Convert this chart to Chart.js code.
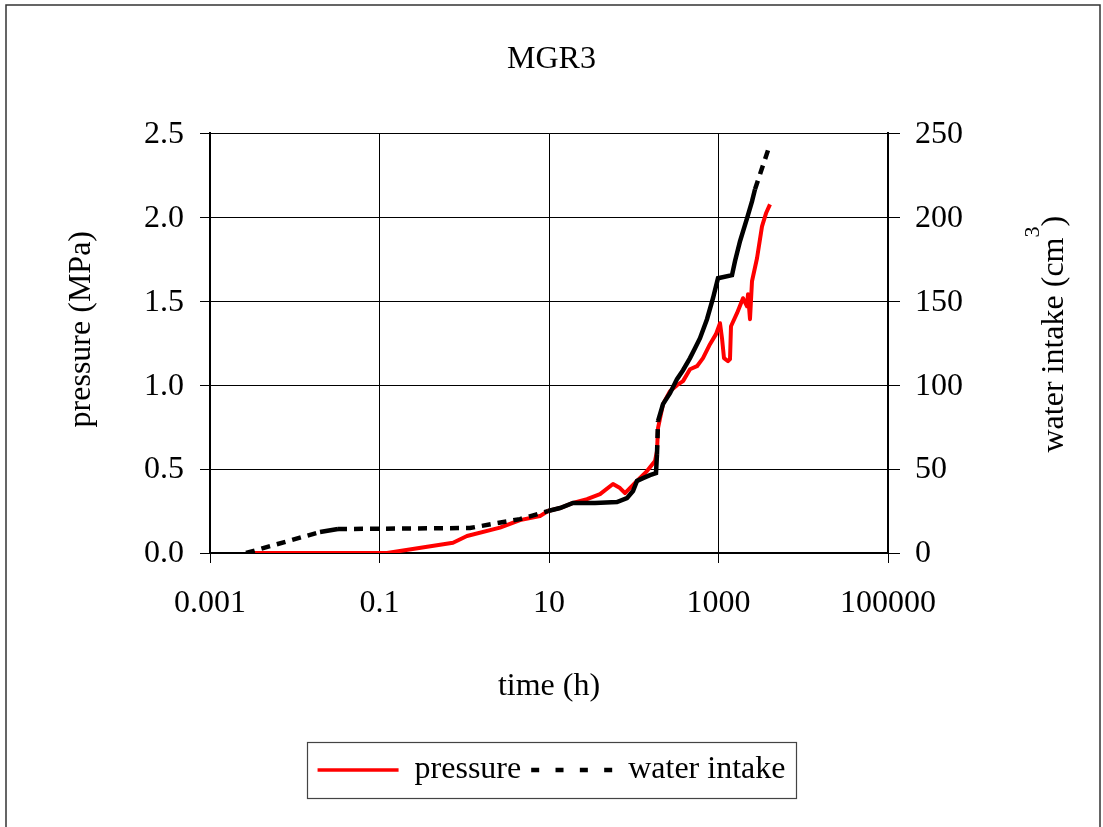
<!DOCTYPE html>
<html><head><meta charset="utf-8">
<script src="https://cdn.jsdelivr.net/npm/chart.js@4.4.1/dist/chart.umd.min.js"></script>
<style>html,body{margin:0;padding:0;background:#fff;} canvas{display:block;}</style>
</head><body>
<canvas id="c" width="1103" height="827"></canvas>
<script>
const chartTitle = 'MGR3';
const xTitle = 'time (h)';
const yLeftTitle = 'pressure (MPa)';
const yRightTitle = 'water intake (cm';
const yRightTitleSup = '3';
const seriesNames = ['pressure', 'water intake'];

const xTickValues = [0.001, 0.1, 10, 1000, 100000];
const xTickLabels = ['0.001', '0.1', '10', '1000', '100000'];
const yLeftTickLabels = ['0.0', '0.5', '1.0', '1.5', '2.0', '2.5'];
const yRightTickLabels = ['0', '50', '100', '150', '200', '250'];

const pressureTime = [0.00266, 0.1226, 0.737, 1.077, 2.64, 4.55, 7.83, 9.73, 13.49, 19.2, 28.1, 40.0, 56.9, 68.8, 78.9, 109.2, 143.3, 178.1, 188.1, 193.3, 221.4, 267.7, 323.8, 381.2, 461.0, 557.6, 656.4, 793.6, 934.3, 1041.6, 1099.6, 1161, 1294.5, 1366.6, 1404.3, 1653.6, 1946.6, 2169.6, 2229.3, 2353.2, 2484.9, 2847, 3261, 3635, 4052];
const pressureValues = [0, 0, 0.061, 0.101, 0.151, 0.196, 0.22, 0.25, 0.268, 0.298, 0.321, 0.351, 0.411, 0.387, 0.357, 0.429, 0.488, 0.548, 0.607, 0.744, 0.887, 0.964, 1.0, 1.024, 1.095, 1.113, 1.161, 1.244, 1.304, 1.369, 1.280, 1.161, 1.143, 1.155, 1.351, 1.429, 1.518, 1.470, 1.542, 1.393, 1.619, 1.756, 1.946, 2.024, 2.077];

const waterTime = [0.00266, 0.01987, 0.0324, 1.169, 4.55, 9.73, 13.49, 19.2, 34.9, 63.4, 83.2, 98.0, 109.2, 128.6, 155.5, 183.0, 188.1, 193.3, 221.4, 267.7, 323.8, 381.2, 461.0, 528.2, 604.8, 731.6, 861.2, 986.5, 1443, 1565, 1793, 2169.6, 2484.9, 2696, 4052];
const waterValues = [0, 12.5, 14.3, 14.9, 20.2, 25.0, 26.8, 29.8, 29.8, 30.4, 32.7, 36.9, 42.9, 44.6, 46.4, 47.6, 58.9, 78.6, 88.7, 95.2, 103.6, 108.9, 116.1, 122.0, 128.0, 139.3, 151.8, 163.7, 165.5, 173.8, 185.7, 199.4, 209.5, 216.7, 243.5];

const FONT = "'Liberation Serif', 'Times New Roman', serif";
const FS = 32;

const pressureData = pressureTime.map((t, i) => ({x: t, y: pressureValues[i]}));
const waterData = waterTime.map((t, i) => ({x: t, y: waterValues[i]}));

const segLen = ctx => Math.hypot(ctx.p1.x - ctx.p0.x, ctx.p1.y - ctx.p0.y);

const decor = {
  id: 'decor',
  beforeDraw(chart) {
    const ctx = chart.ctx;
    ctx.save();
    ctx.fillStyle = '#fff';
    ctx.fillRect(0, 0, chart.width, chart.height);
    ctx.restore();
  },
  afterDraw(chart) {
    const ctx = chart.ctx;
    const ca = chart.chartArea;
    ctx.save();
    // outer frame
    ctx.strokeStyle = '#333';
    ctx.lineWidth = 1.5;
    ctx.beginPath();
    ctx.moveTo(6, chart.height + 5);
    ctx.lineTo(6, 5);
    ctx.lineTo(chart.width - 3, 5);
    ctx.lineTo(chart.width - 3, chart.height + 5);
    ctx.stroke();
    // legend border
    const hb = chart.legend.legendHitBoxes;
    if (hb && hb.length) {
      const minX = Math.min(...hb.map(h => h.left));
      const maxX = Math.max(...hb.map(h => h.left + h.width));
      const cy = hb[0].top + hb[0].height / 2;
      ctx.strokeStyle = '#444';
      ctx.lineWidth = 1.2;
      ctx.strokeRect(Math.round(minX - 11) + 0.5, Math.round(cy - 28) + 0.5, Math.round(maxX - minX + 21), 56);
    }
    // y titles
    ctx.fillStyle = '#000';
    ctx.textBaseline = 'middle';
    ctx.font = FS + 'px ' + FONT;
    const midY = (ca.top + ca.bottom) / 2;
    ctx.save();
    ctx.translate(ca.left - 128, midY - 14);
    ctx.rotate(-Math.PI / 2);
    ctx.textAlign = 'center';
    ctx.fillText(yLeftTitle, 0, 0);
    ctx.restore();

    ctx.save();
    ctx.translate(ca.right + 167, midY - 9);
    ctx.rotate(-Math.PI / 2);
    ctx.textAlign = 'left';
    const mainW = ctx.measureText(yRightTitle).width;
    const closeW = ctx.measureText(')').width;
    ctx.font = '22px ' + FONT;
    const supW = ctx.measureText(yRightTitleSup).width;
    const total = mainW + supW + closeW;
    let x0 = -total / 2;
    ctx.font = FS + 'px ' + FONT;
    ctx.fillText(yRightTitle, x0, 0);
    ctx.font = '22px ' + FONT;
    ctx.fillText(yRightTitleSup, x0 + mainW, -22);
    ctx.font = FS + 'px ' + FONT;
    ctx.fillText(')', x0 + mainW + supW, 0);
    ctx.restore();
    ctx.restore();
  }
};

new Chart(document.getElementById('c'), {
  type: 'line',
  data: {
    datasets: [
      {
        label: seriesNames[0],
        data: pressureData,
        borderColor: '#ff0000',
        backgroundColor: '#ff0000',
        borderWidth: 4,
        borderJoinStyle: 'round',
        pointRadius: 0,
        tension: 0,
        order: 1,
        yAxisID: 'y'
      },
      {
        label: seriesNames[1],
        data: waterData,
        borderColor: '#000000',
        backgroundColor: '#000000',
        borderWidth: 4.5,
        borderDash: [9, 7],
        borderCapStyle: 'butt',
        pointRadius: 0,
        tension: 0,
        order: 0,
        yAxisID: 'y2',
        segment: {
          borderDash: ctx => segLen(ctx) < 25 ? [] : [9, 7]
        }
      }
    ]
  },
  options: {
    responsive: false,
    animation: false,
    events: [],
    layout: { padding: { left: 0, right: 0, top: 0, bottom: 31 } },
    plugins: {
      title: {
        display: true,
        text: chartTitle,
        color: '#000',
        font: { family: FONT, size: FS, weight: 'normal', lineHeight: 1.2 },
        padding: { top: 40, bottom: 55 }
      },
      legend: {
        display: true,
        position: 'bottom',
        labels: {
          color: '#000',
          font: { family: FONT, size: FS },
          padding: 10,
          usePointStyle: true,
          pointStyleWidth: 81,
          boxHeight: FS,
          sort: (a, b) => a.datasetIndex - b.datasetIndex,
          generateLabels: (chart) => {
            const items = Chart.defaults.plugins.legend.labels.generateLabels(chart);
            items.forEach((it) => {
              const isWater = it.datasetIndex === 1;
              it.pointStyle = 'line';
              it.lineCap = 'butt';
              it.lineDash = isWater ? [8, 16.33] : [];
              it.lineWidth = isWater ? 4.5 : 3.5;
            });
            return items;
          }
        }
      },
      tooltip: { enabled: false }
    },
    scales: {
      x: {
        type: 'logarithmic',
        position: 'bottom',
        min: 0.001,
        max: 100000,
        afterBuildTicks: s => { s.ticks = xTickValues.map(v => ({ value: v })); },
        afterFit: s => { s.height = 191; },
        ticks: {
          autoSkip: false,
          maxRotation: 0,
          minRotation: 0,
          color: '#000',
          font: { family: FONT, size: FS },
          padding: 21,
          callback: (v, i) => xTickLabels[i]
        },
        grid: { color: '#000', lineWidth: 1, drawTicks: true, tickLength: 10 },
        border: { color: '#000', width: 2 },
        title: {
          display: true,
          text: xTitle,
          color: '#000',
          font: { family: FONT, size: FS, lineHeight: 1.2 },
          padding: { top: 0, bottom: 38 }
        }
      },
      y: {
        position: 'left',
        min: 0,
        max: 2.5,
        afterFit: s => { s.width = 210; },
        ticks: {
          stepSize: 0.5,
          color: '#000',
          font: { family: FONT, size: FS },
          padding: 16,
          labelOffset: 1,
          callback: (v, i) => yLeftTickLabels[i]
        },
        grid: { color: '#000', lineWidth: 1, drawTicks: true, tickLength: 10 },
        border: { color: '#000', width: 2 }
      },
      y2: {
        position: 'right',
        min: 0,
        max: 250,
        afterFit: s => { s.width = 215; },
        ticks: {
          stepSize: 50,
          color: '#000',
          font: { family: FONT, size: FS },
          padding: 15,
          labelOffset: 1,
          callback: (v, i) => yRightTickLabels[i]
        },
        grid: { drawOnChartArea: false, color: '#000', lineWidth: 1, drawTicks: true, tickLength: 12 },
        border: { color: '#000', width: 2 }
      }
    }
  },
  plugins: [decor]
});
</script>
</body></html>
